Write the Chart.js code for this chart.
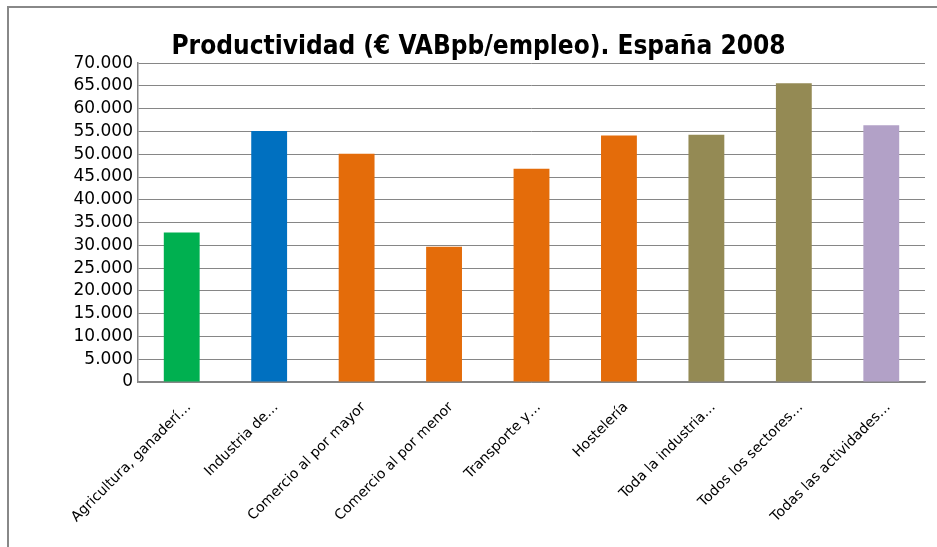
<!DOCTYPE html>
<html>
<head>
<meta charset="utf-8">
<script src="https://cdn.jsdelivr.net/npm/chart.js@4.4.1/dist/chart.umd.min.js"></script>
<style>
  html, body { margin: 0; padding: 0; background: #fff; }
  #wrap { position: relative; width: 937px; height: 547px; }
</style>
</head>
<body>
<div id="wrap"><canvas id="chart" width="937" height="547"></canvas></div>
<script>
// datos
var categorias = [
    'Agricultura, ganaderí…',
    'Industria de…',
    'Comercio al por mayor',
    'Comercio al por menor',
    'Transporte y…',
    'Hostelería',
    'Toda la industria…',
    'Todos los sectores…',
    'Todas las actividades…'
];
var productividad = [32800, 55100, 50100, 29700, 46800, 54100, 54300, 65600, 56400];
var colores = ['#00B050', '#0070C0', '#E46C0A', '#E46C0A', '#E46C0A', '#E46C0A', '#948A54', '#948A54', '#B2A1C7'];
var titulo = 'Productividad (€ VABpb/empleo). España 2008';

// marco del grafico (solo izquierda y arriba visibles)
var marco = {
    id: 'marco',
    afterDraw: function(chart) {
        var ctx = chart.ctx;
        ctx.save();
        ctx.strokeStyle = '#888888';
        ctx.lineWidth = 2;
        ctx.beginPath();
        ctx.moveTo(8, chart.height);
        ctx.lineTo(8, 7);
        ctx.lineTo(chart.width, 7);
        ctx.stroke();
        ctx.restore();
    }
};

new Chart(document.getElementById('chart').getContext('2d'), {
    type: 'bar',
    data: {
        labels: categorias,
        datasets: [{
            label: '',
            data: productividad,
            backgroundColor: colores,
            borderWidth: 0,
            barPercentage: 0.41,
            categoryPercentage: 1
        }]
    },
    plugins: [marco],
    options: {
        responsive: false,
        animation: false,
        layout: {
            // padding izquierda mayor para centrar el titulo como en el original
            padding: { left: 32, right: 12, top: 0, bottom: 0 }
        },
        plugins: {
            legend: { display: false },
            tooltip: { enabled: false },
            title: {
                display: true,
                text: titulo,
                color: '#000',
                font: { family: 'DejaVu Sans Condensed', weight: 'bold', size: 26 },
                padding: { top: 32, bottom: 0 }
            }
        },
        scales: {
            x: {
                grid: { display: false, drawTicks: false },
                border: { display: true, color: '#868686', width: 1.5 },
                ticks: {
                    color: '#000',
                    font: { family: 'DejaVu Sans', size: 14 },
                    minRotation: 45,
                    maxRotation: 45,
                    autoSkip: false,
                    padding: 17,
                    labelOffset: 7
                },
                afterFit: function(scale) { scale.height = 165; }
            },
            y: {
                min: 0,
                max: 70000,
                grid: { color: '#868686', lineWidth: 1, drawTicks: false },
                border: { display: true, color: '#868686', width: 1.5 },
                ticks: {
                    stepSize: 5000,
                    autoSkip: false,
                    color: '#000',
                    font: { family: 'DejaVu Sans', size: 17 },
                    padding: 5,
                    callback: function(v) {
                        return v.toString().replace(/\B(?=(\d{3})+(?!\d))/g, '.');
                    }
                },
                afterFit: function(scale) { scale.width = 106; }
            }
        }
    }
});
</script>
</body>
</html>
